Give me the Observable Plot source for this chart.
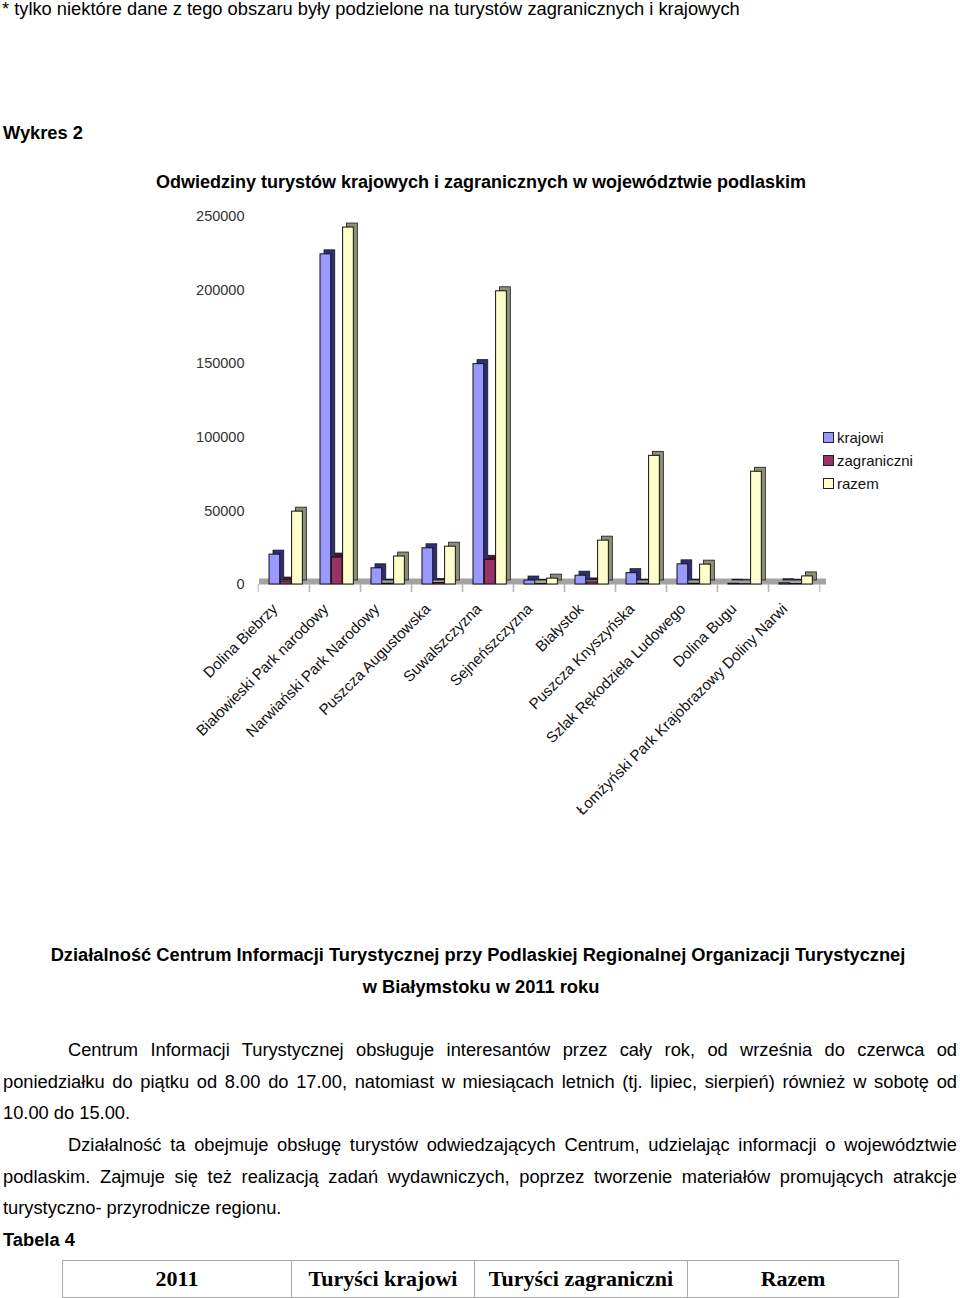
<!DOCTYPE html>
<html>
<head>
<meta charset="utf-8">
<script src="https://cdn.jsdelivr.net/npm/d3@7"></script>
<script src="https://cdn.jsdelivr.net/npm/@observablehq/plot@0.6"></script>
<style>
  html, body { margin: 0; padding: 0; background: #fff; }
  body { width: 960px; height: 1298px; position: relative; overflow: hidden; font-family: "Liberation Sans", Arial, sans-serif; color: #000; }
  .abs { position: absolute; white-space: nowrap; }
  .t17 { font-size: 18.3px; line-height: 20px; }
  .bold { font-weight: bold; }
  .jline { position: absolute; font-size: 18.3px; line-height: 20px; text-align: justify; text-align-last: justify; white-space: normal; }
  #chart { position: absolute; left: 0; top: 200px; }
  .leg { position: absolute; left: 823px; font-size: 15px; line-height: 18px; color: #111; }
  .leg span.sw { display: inline-block; width: 9px; height: 9px; border: 1px solid #222; margin-right: 3px; vertical-align: 0px; }
  table.t4 { position: absolute; left: 62px; top: 1260px; width: 837px; border-collapse: collapse; font-family: "Liberation Serif", "Times New Roman", serif; font-weight: bold; font-size: 22px; }
  table.t4 td { border: 1px solid #a8a8a8; height: 36px; text-align: center; padding: 0; }
</style>
</head>
<body>
<div class="abs" style="left:2px; top:0px; font-size:18.3px; line-height:17px;">* tylko niektóre dane z tego obszaru były podzielone na turystów zagranicznych i krajowych</div>
<div class="abs t17 bold" style="left:3px; top:123px;">Wykres 2</div>
<div class="abs bold" style="left:0; width:962px; text-align:center; top:172px; font-size:18px; line-height:20px;">Odwiedziny turystów krajowych i zagranicznych w województwie podlaskim</div>
<div id="chart"></div>
<div class="leg" style="top:429px;"><span class="sw" style="background:#9999ff"></span>krajowi</div>
<div class="leg" style="top:452px;"><span class="sw" style="background:#993366"></span>zagraniczni</div>
<div class="leg" style="top:475px;"><span class="sw" style="background:#ffffcc"></span>razem</div>

<div class="abs t17 bold" style="left:0; width:956px; text-align:center; top:945px;">Działalność Centrum Informacji Turystycznej przy Podlaskiej Regionalnej Organizacji Turystycznej</div>
<div class="abs t17 bold" style="left:0; width:962px; text-align:center; top:977px;">w Białymstoku w 2011 roku</div>

<div class="jline" style="left:68px; width:889px; top:1040px;">Centrum Informacji Turystycznej obsługuje interesantów przez cały rok, od września do czerwca od</div>
<div class="jline" style="left:3px; width:954px; top:1072px;">poniedziałku do piątku od 8.00 do 17.00, natomiast w miesiącach letnich (tj. lipiec, sierpień) również w sobotę od</div>
<div class="abs t17" style="left:3px; top:1103px;">10.00 do 15.00.</div>
<div class="jline" style="left:68px; width:889px; top:1135px;">Działalność ta obejmuje obsługę turystów odwiedzających Centrum, udzielając informacji o województwie</div>
<div class="jline" style="left:3px; width:954px; top:1167px;">podlaskim. Zajmuje się też realizacją zadań wydawniczych, poprzez tworzenie materiałów promujących atrakcje</div>
<div class="abs t17" style="left:3px; top:1198px;">turystyczno- przyrodnicze regionu.</div>
<div class="abs t17 bold" style="left:3px; top:1230px;">Tabela 4</div>

<table class="t4">
  <tr>
    <td style="width:228px;">2011</td>
    <td style="width:182px;">Turyści krajowi</td>
    <td style="width:212px;">Turyści zagraniczni</td>
    <td>Razem</td>
  </tr>
</table>

<script>
const categories = [
  "Dolina Biebrzy",
  "Białowieski Park narodowy",
  "Narwiański Park Narodowy",
  "Puszcza Augustowska",
  "Suwalszczyzna",
  "Sejneńszczyzna",
  "Białystok",
  "Puszcza Knyszyńska",
  "Szlak Rękodzieła Ludowego",
  "Dolina Bugu",
  "Łomżyński Park Krajobrazowy Doliny Narwi"
];
const krajowi    = [20300, 224300, 11000, 24600, 149700, 2700, 6000, 7700, 13700, 500, 800];
const zagraniczni = [2000, 18300, 500, 1000, 16800, 300, 1400, 500, 500, 200, 300];
const razem      = [49500, 242500, 19000, 25700, 199200, 4000, 29800, 87400, 13500, 76600, 5500];
const yTicks = [0, 50000, 100000, 150000, 200000, 250000];

const seriesNames = ["krajowi", "zagraniczni", "razem"];
const seriesValues = [krajowi, zagraniczni, razem];
const frontColors = ["#9999ff", "#993366", "#ffffcc"];
const sideColors = ["#2e2e75", "#4a1530", "#8e8e78"];

const marginLeft = 255, marginRight = 138, width = 960;
const bw = (width - marginLeft - marginRight) / categories.length;
const barW = 11.3, barOff = 11, depth = 4;

const marks = [];
// floor
marks.push(Plot.ruleY([0], {stroke: "#a3a3a3", strokeWidth: 6, dy: -3, dx: 4}));
// boundary ticks
marks.push(Plot.axisX({tickSize: 8, tickFormat: () => "", stroke: "#b0b0b0", dx: -bw / 2, label: null}));
marks.push(Plot.axisX({tickSize: 8, tickFormat: () => "", stroke: "#b0b0b0", dx: bw / 2, label: null}));
// bars
seriesValues.forEach((vals, i) => {
  const data = categories.map((c, j) => ({cat: c, value: vals[j], series: seriesNames[i]}));
  const L = barOff + barW * i;
  const R = bw - L - barW;
  marks.push(Plot.barY(data, {x: "cat", y: "value", fill: sideColors[i], stroke: "#1a1a1a", strokeWidth: 0.8, insetLeft: L, insetRight: R, dx: depth, dy: -depth}));
  marks.push(Plot.barY(data, {x: "cat", y: "value", fill: frontColors[i], stroke: "#111", strokeWidth: 1, insetLeft: L, insetRight: R}));
});
// y labels
marks.push(Plot.axisY({ticks: yTicks, tickSize: 0, tickPadding: 11, tickFormat: d3.format("d"), label: null, fontSize: 14.5, fill: "#333"}));
// x labels
marks.push(Plot.axisX({tickSize: 0, tickPadding: 22, tickRotate: -45, label: null, fontSize: 15.1, fill: "#111", dx: -9}));

const chart = Plot.plot({
  width: width,
  height: 630,
  marginLeft: marginLeft,
  marginRight: marginRight,
  marginTop: 16,
  marginBottom: 246,
  style: {fontFamily: "'Liberation Sans', Arial, sans-serif", background: "transparent", overflow: "visible"},
  x: {domain: categories, padding: 0, axis: null},
  y: {domain: [0, 250000], axis: null},
  marks: marks
});
document.getElementById("chart").appendChild(chart);
</script>
</body>
</html>
